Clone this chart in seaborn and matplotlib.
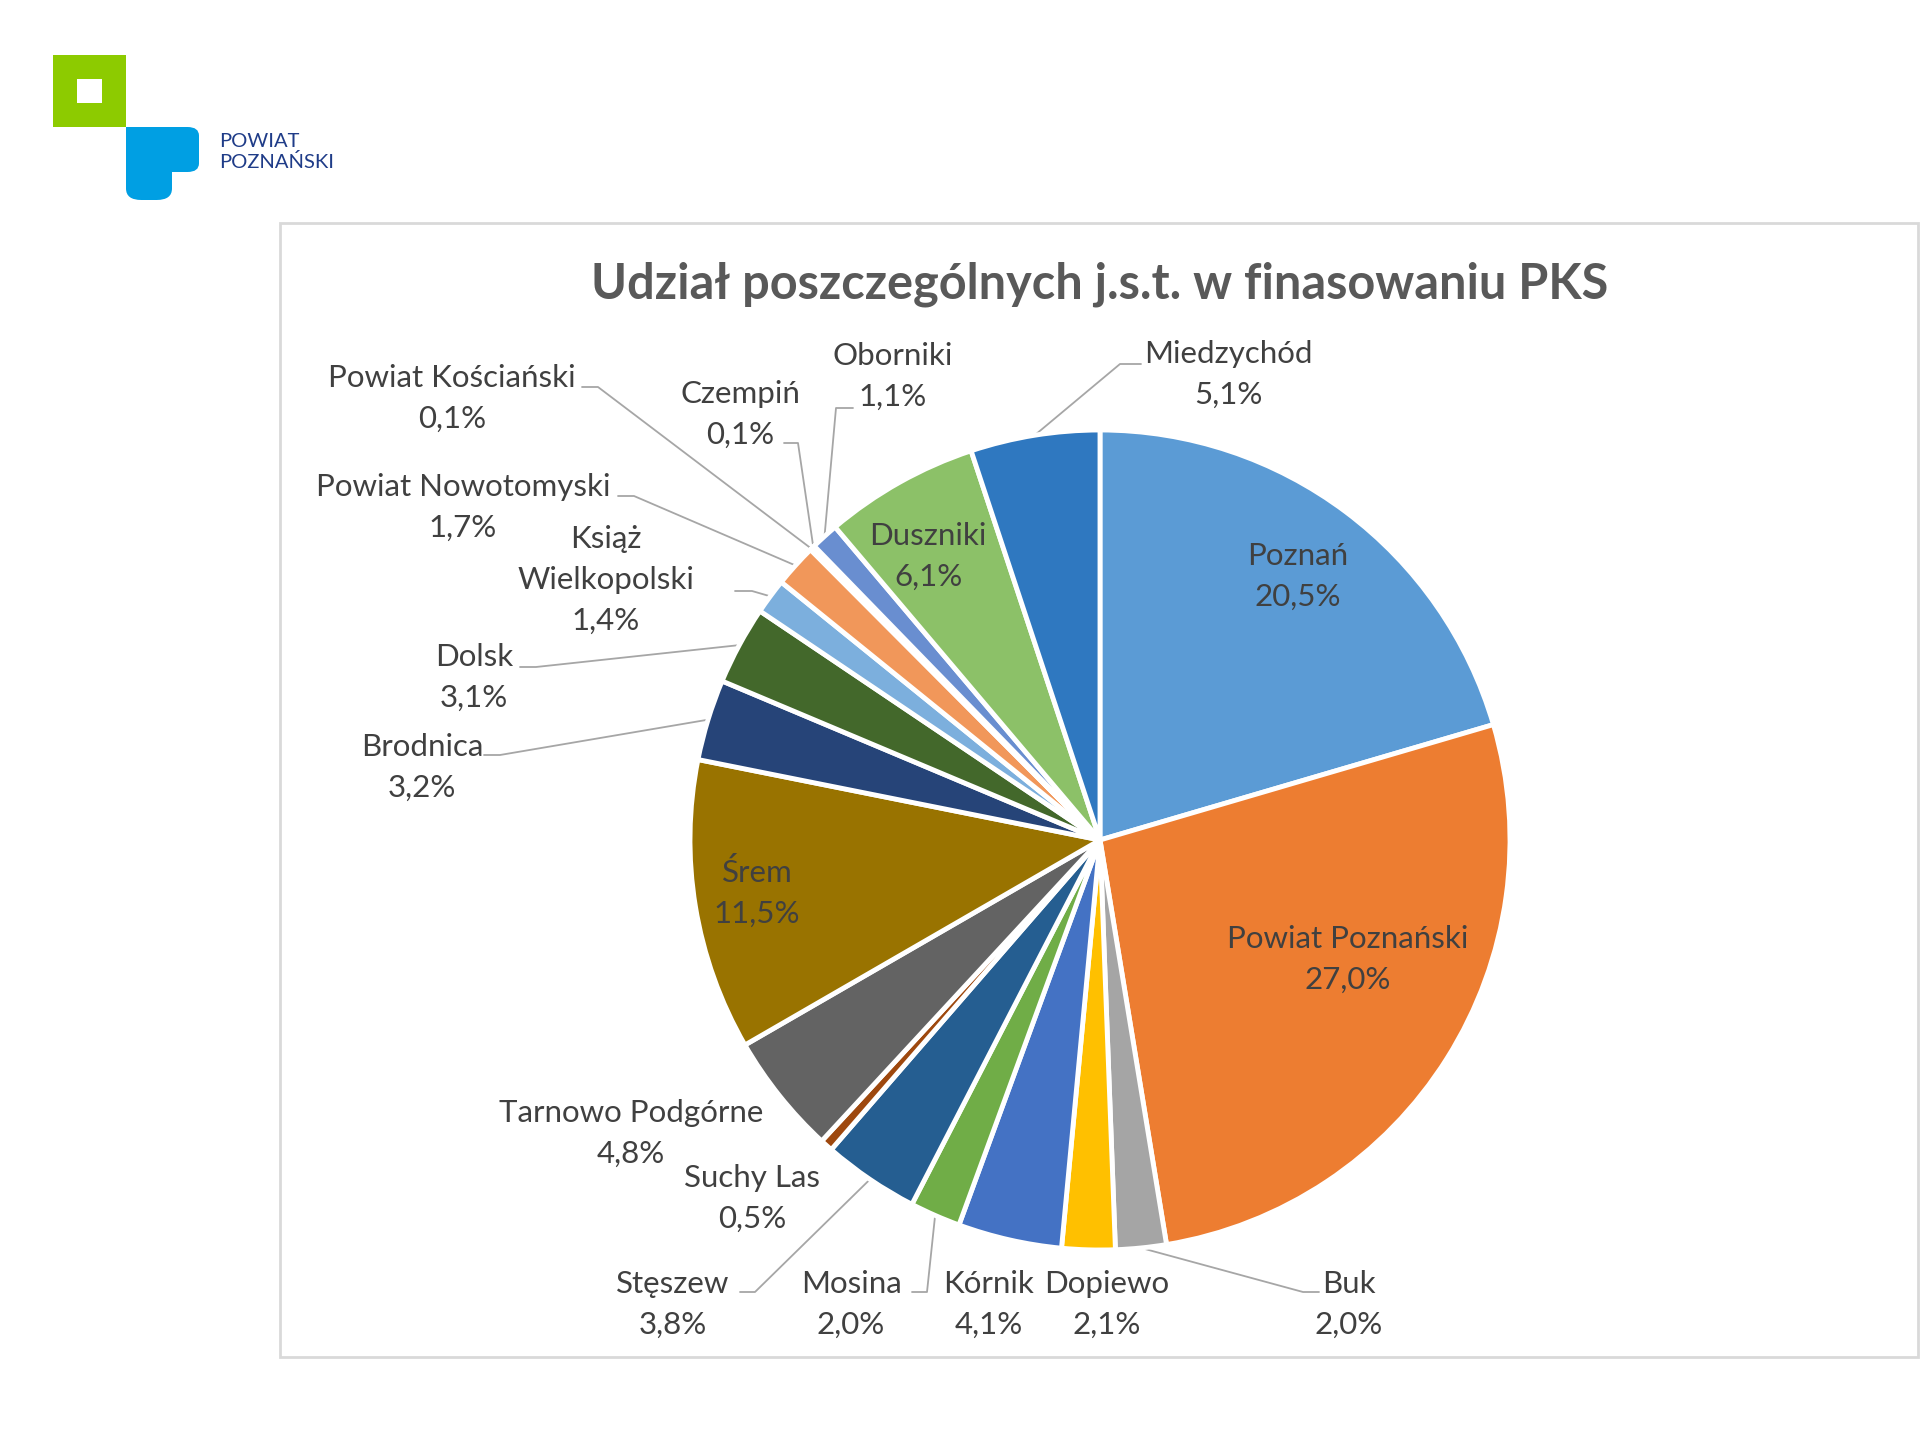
import numpy as np
import pandas as pd
import seaborn as sns
import matplotlib.pyplot as plt
from matplotlib.patches import Rectangle, FancyBboxPatch

# data, clockwise from 12 o'clock
names = ['Poznań', 'Powiat Poznański', 'Buk', 'Dopiewo', 'Kórnik', 'Mosina',
         'Stęszew', 'Suchy Las', 'Tarnowo Podgórne', 'Śrem', 'Brodnica', 'Dolsk',
         'Książ\nWielkopolski', 'Powiat Nowotomyski', 'Powiat Kościański',
         'Czempiń', 'Oborniki', 'Duszniki', 'Miedzychód']
shares = [20.5, 27.0, 2.0, 2.1, 4.1, 2.0, 3.8, 0.5, 4.8, 11.5, 3.2, 3.1,
          1.4, 1.7, 0.1, 0.1, 1.1, 6.1, 5.1]
colors = ['#5B9BD5', '#ED7D31', '#A5A5A5', '#FFC000', '#4472C4', '#70AD47',
          '#255E91', '#9E480E', '#636363', '#997300', '#264478', '#43682B',
          '#7CAFDD', '#F1975A', '#B7B7B7', '#FFCD33', '#698ED0', '#8CC168',
          '#2F78C0']

# label placement in pixels (x, y from top), and leader start / elbow
label_pos = [(1298, 576), (1348, 959), (1349, 1304), (1107, 1304), (989, 1304),
             (851, 1304), (673, 1304), (752, 1198), (631, 1133), (757, 893),
             (422, 767), (474, 677), (606, 580), (463, 507), (452, 398),
             (740, 414), (893, 376), (928, 556), (1228, 374)]
leaders = {2: ((1319, 1292), (1303, 1292)),
           5: ((912, 1292), (927, 1292)),
           6: ((740, 1292), (755, 1292)),
           10: ((484, 755), (500, 755)),
           11: ((520, 667), (536, 667)),
           12: ((735, 591), (752, 591)),
           13: ((618, 496), (634, 496)),
           14: ((582, 387), (598, 387)),
           15: ((784, 443), (798, 443)),
           16: ((853, 408), (836, 408)),
           18: ((1141, 364), (1120, 364))}

CX, CY, R = 1100, 840, 410


def px(x, y):
    return (x - CX) / R, (CY - y) / R


sns.set_theme(style='white')
plt.rcParams['font.family'] = ['Lato', 'DejaVu Sans']

fig = plt.figure(figsize=(19.2, 14.4), dpi=100)
fig.patch.set_facecolor('white')
ax = fig.add_axes([0, 0, 1, 1])
ax.axis('off')

# chart frame
fig.patches.append(Rectangle((280 / 1920, 1 - 1357 / 1440), 1638 / 1920, 1134 / 1440,
                             transform=fig.transFigure, fill=False,
                             edgecolor='#D9D9D9', lw=2, zorder=0))

wedges, _ = ax.pie(shares, colors=colors, startangle=90, counterclock=False,
                   radius=1, wedgeprops=dict(edgecolor='white', linewidth=3.5))
# pie resets the limits, so map data units to pixels afterwards
ax.set_xlim(-CX / R, (1920 - CX) / R)
ax.set_ylim(-(1440 - CY) / R, CY / R)
ax.set_aspect('equal')

txt_color = '#404040'
for i, w in enumerate(wedges):
    lx, ly = px(*label_pos[i])
    ax.text(lx, ly, f"{names[i]}\n{shares[i]:.1f}%".replace('.', ','),
            ha='center', va='center', fontsize=22.5, color=txt_color, linespacing=1.55)
    if i in leaders:
        (sx, sy), (ex, ey) = leaders[i]
        ang = np.deg2rad((w.theta1 + w.theta2) / 2)
        p0 = px(sx, sy)
        p1 = px(ex, ey)
        ax.plot([p0[0], p1[0], np.cos(ang) * 1.0], [p0[1], p1[1], np.sin(ang) * 1.0],
                color='#A6A6A6', lw=1.3, zorder=0.5)

fig.text(1100 / 1920, 1 - 284 / 1440, 'Udział poszczególnych j.s.t. w finasowaniu PKS',
         ha='center', va='center', fontsize=35, fontweight='bold', color='#595959')

# logo
fig.patches.append(Rectangle((53 / 1920, 1 - 127 / 1440), 73 / 1920, 72 / 1440,
                             transform=fig.transFigure, color='#8DCB00', lw=0))
fig.patches.append(Rectangle((77 / 1920, 1 - 103 / 1440), 25 / 1920, 24 / 1440,
                             transform=fig.transFigure, color='white', lw=0))
fig.patches.append(FancyBboxPatch((126 / 1920, 1 - 172 / 1440), 73 / 1920, 45 / 1440,
                                  boxstyle='round,pad=0,rounding_size=0.006',
                                  transform=fig.transFigure, color='#009FE3', lw=0))
fig.patches.append(Rectangle((126 / 1920, 1 - 172 / 1440), 10 / 1920, 45 / 1440,
                             transform=fig.transFigure, color='#009FE3', lw=0))
fig.patches.append(FancyBboxPatch((126 / 1920, 1 - 200 / 1440), 46 / 1920, 60 / 1440,
                                  boxstyle='round,pad=0,rounding_size=0.008',
                                  transform=fig.transFigure, color='#009FE3', lw=0))
fig.patches.append(Rectangle((126 / 1920, 1 - 160 / 1440), 46 / 1920, 33 / 1440,
                             transform=fig.transFigure, color='#009FE3', lw=0))
fig.text(219 / 1920, 1 - 152 / 1440, 'POWIAT\nPOZNAŃSKI', ha='left', va='center',
         fontsize=14.5, color='#1F3C88', linespacing=1.2)

fig.savefig('out.png', dpi=100)
